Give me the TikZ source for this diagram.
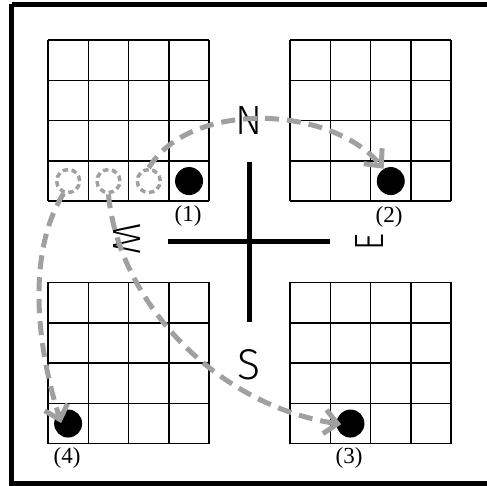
\documentclass[tikz,border=0pt]{standalone}
\usepackage{fontspec}
\setmainfont{Liberation Serif}
\newfontfamily\compassfont{Fira Sans}[UprightFont=* Light]
\usetikzlibrary{arrows.meta}
\definecolor{arrowgray}{RGB}{160,160,160}
\begin{document}
\begin{tikzpicture}[x=1pt,y=-1pt,
  gridline/.style={line width=1.5pt, black},
  ball/.style={circle, fill=black, minimum size=28pt, inner sep=0pt},
  ghost/.style={circle, draw=arrowgray, dash pattern=on 5.5pt off 3.5pt, line width=3.5pt, minimum size=23pt, inner sep=0pt},
  move/.style={draw=arrowgray, line width=5pt, dash pattern=on 14pt off 8pt, -{Straight Barb[length=13pt,width=24pt]}},
  compass/.style={font=\compassfont\fontsize{39}{39}\selectfont, inner sep=0pt},
  numlabel/.style={font=\fontsize{23}{23}\selectfont, inner sep=0pt},
  axisline/.style={line width=5pt, black},
  frameline/.style={line width=5pt, black}]
\clip (0,0) rectangle (487,486);
% frame
\draw[frameline] (11.5,4.2) -- (495,4.2) (11.5,4.2) -- (11.5,483.7) -- (495,483.7);
% grids
\foreach \gx/\gy in {48/40,290/40,48/282.5,290/282.5}{
  \foreach \i in {0,...,4}{
    \draw[gridline] (\gx+\i*40.3,\gy) -- (\gx+\i*40.3,\gy+161.2);
    \draw[gridline] (\gx,\gy+\i*40.3) -- (\gx+161.2,\gy+\i*40.3);
  }
}
% balls and ghosts
\node[ghost] (g1) at (68.15,181.05) {};
\node[ghost] (g2) at (108.45,181.05) {};
\node[ghost] (g3) at (148.75,181.05) {};
\node[ball] (b1) at (189.05,181.05) {};
\node[ball] (b2) at (390.75,181.05) {};
\node[ball] (b3) at (350.45,423.55) {};
\node[ball] (b4) at (68.15,423.55) {};
% labels
\node[numlabel] (l1) at (188,216) {(1)};
\node[numlabel] (l2) at (389,217) {(2)};
\node[numlabel] (l3) at (349,458) {(3)};
\node[numlabel] (l4) at (67,458) {(4)};
% compass
\coordinate (ct) at (249.3,162.5);
\coordinate (cb) at (249.3,321.7);
\coordinate (cl) at (168.3,241.5);
\coordinate (cr) at (330,241.5);
\draw[axisline] (ct) -- (cb);
\draw[axisline] (cl) -- (cr);
\node[compass] (N) at (249,121) {\resizebox{27pt}{28pt}{N}};
\node[compass] (S) at (249,365) {\resizebox{23pt}{30pt}{S}};
\node[compass, rotate=90] (E) at (369,242) {\resizebox{17pt}{28pt}{E}};
\node[compass, rotate=-90] (W) at (127,239) {\resizebox{31pt}{27pt}{W}};
% moves
\draw[move] (g3.north) .. controls (190,100) and (330,105) .. (b2.120);
\draw[move, shorten >=-10pt] (g1.250) .. controls (28,250) and (35,340) .. (b4.north west);
\draw[move, shorten >=-5pt] (g2.south) .. controls (118,300) and (215,405) .. (b3.west);
\end{tikzpicture}
\end{document}
